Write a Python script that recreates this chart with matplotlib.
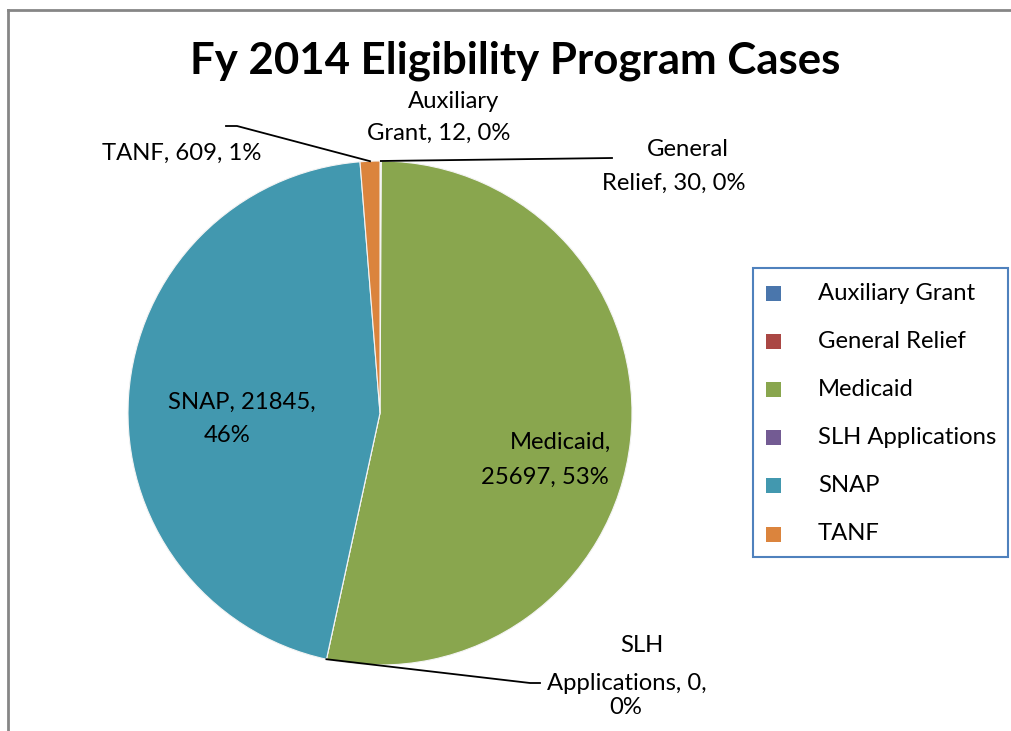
import matplotlib
matplotlib.use("Agg")
import matplotlib.pyplot as plt
from matplotlib.patches import Rectangle
import numpy as np

# data
programs = ["Auxiliary Grant", "General Relief", "Medicaid", "SLH Applications", "SNAP", "TANF"]
cases = [12, 30, 25697, 0, 21845, 609]
pct_labels = ["0%", "0%", "53%", "0%", "46%", "1%"]
colors = ["#4A76AC", "#AA4744", "#89A64E", "#735B93", "#4298AF", "#DB843D"]

plt.rcParams["font.family"] = ["Lato", "DejaVu Sans"]

W, H = 1011, 731
fig = plt.figure(figsize=(W / 100, H / 100), dpi=100)
ax = fig.add_axes([0, 0, 1, 1])

cx, cy, r = 380, 413, 252
wedges, _ = ax.pie(cases, colors=colors, center=(cx, cy), radius=r,
                   startangle=-90, counterclock=True,
                   wedgeprops=dict(edgecolor="#f4f4f4", linewidth=0.8))
ax.set_xlim(0, W)
ax.set_ylim(H, 0)
ax.set_aspect("auto")
ax.axis("off")


def edge_point(w, where="mid"):
    if where == "mid":
        a = (w.theta1 + w.theta2) / 2
    else:
        a = w.theta1
    a = np.deg2rad(a)
    return cx + r * np.cos(a), cy + r * np.sin(a)


fs = 17.2

# title
ax.text(515, 61, "Fy 2014 Eligibility Program Cases", ha="center", va="center",
        fontsize=31.5, fontweight="bold")

# data labels
lab = [
    ("Auxiliary", 454, 102),
    (f"Grant, {cases[0]}, {pct_labels[0]}", 439, 133),
    ("General", 688, 150),
    (f"Relief, {cases[1]}, {pct_labels[1]}", 674, 183),
    (f"TANF, {cases[5]}, {pct_labels[5]}", 182, 153),
    (f"SNAP, {cases[4]},", 242, 402),
    (pct_labels[4], 227, 435),
    ("Medicaid,", 560, 442),
    (f"{cases[2]}, {pct_labels[2]}", 545, 477),
    ("SLH", 642, 645),
    (f"Applications, {cases[3]},", 627, 683),
    (pct_labels[3], 626, 708),
]
for t, x, y in lab:
    ax.text(x, y, t, ha="center", va="center", fontsize=fs)

# leader lines
px, py = edge_point(wedges[5])
ax.plot([226, 237, px], [126, 126, py], color="black", lw=1.3)
px, py = edge_point(wedges[1])
ax.plot([px, 612], [py, 158], color="black", lw=1.3)
px, py = edge_point(wedges[3], "start")
ax.plot([px, 530, 540], [py, 683, 683], color="black", lw=1.3)

# legend
ax.add_patch(Rectangle((753, 268), 255, 289, fill=False, edgecolor="#4F81BD", lw=1.5))
for i, (name, c) in enumerate(zip(programs, colors)):
    y = 293 + i * 48.2
    ax.add_patch(Rectangle((766, y - 7.5), 15, 15, facecolor=c, edgecolor="none"))
    ax.text(818, y, name, ha="left", va="center", fontsize=fs)

# chart frame
ax.plot([8, W], [10, 10], color="#868686", lw=2, clip_on=False)
ax.plot([8, 8], [10, H], color="#868686", lw=2, clip_on=False)

fig.savefig("out.png", dpi=100)
